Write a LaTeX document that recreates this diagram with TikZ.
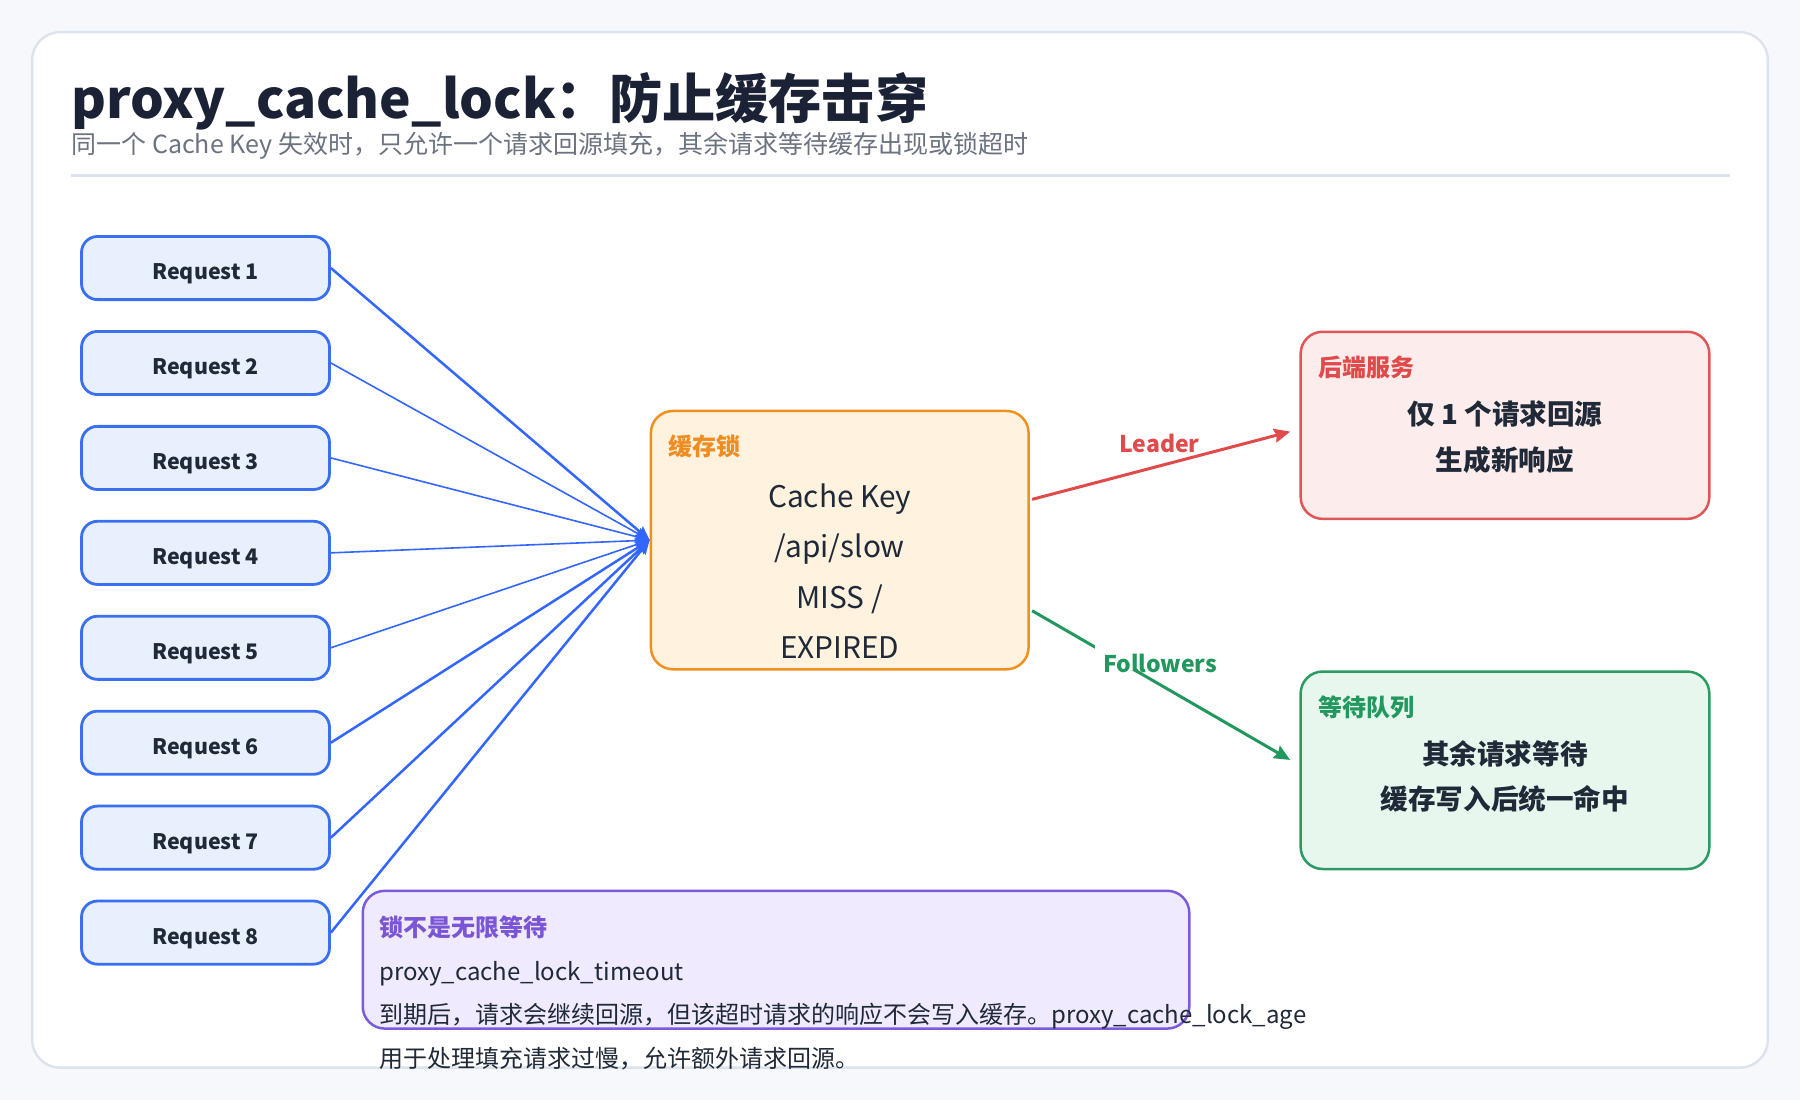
\documentclass[tikz,border=0pt]{standalone}
\usepackage{fontspec}
\setmainfont{Noto Sans CJK SC}
\usetikzlibrary{arrows.meta,calc}
\definecolor{pagebg}{HTML}{F6F8FB}
\definecolor{cardborder}{HTML}{DDE3EC}
\definecolor{titlec}{HTML}{1B2236}
\definecolor{subc}{HTML}{6B7280}
\definecolor{textc}{HTML}{1F2937}
\definecolor{reqfill}{HTML}{E8F0FE}
\definecolor{reqdraw}{HTML}{3A6FF0}
\definecolor{reqline}{HTML}{3366FF}
\definecolor{lockfill}{HTML}{FFF3E0}
\definecolor{lockdraw}{HTML}{F0901E}
\definecolor{lockc}{HTML}{EF8C22}
\definecolor{befill}{HTML}{FDECEC}
\definecolor{bedraw}{HTML}{E05656}
\definecolor{bec}{HTML}{E04A4A}
\definecolor{wqfill}{HTML}{E8F7EE}
\definecolor{wqdraw}{HTML}{2B9A63}
\definecolor{wqc}{HTML}{22985E}
\definecolor{notefill}{HTML}{EFEAFD}
\definecolor{notedraw}{HTML}{7B5BD9}
\definecolor{notec}{HTML}{7A55D6}
\begin{document}
\begin{tikzpicture}[x=0.574pt,y=-0.574pt,
  reqbox/.style={draw=reqdraw,fill=reqfill,line width=1.4pt,rounded corners=8pt,
    minimum width={216*0.574pt},minimum height={55*0.574pt},inner sep=0pt},
  reqtxt/.style={anchor=base,inner sep=0pt,font=\fontsize{10.7pt}{12pt}\selectfont\bfseries,text=textc},
  bigbox/.style={line width=1.25pt,rounded corners=11pt,inner sep=0pt},
  boxlabel/.style={anchor=base west,inner sep=0pt,font=\fontsize{12pt}{14pt}\selectfont\bfseries},
  locktxt/.style={anchor=base,inner sep=0pt,font=\fontsize{14.9pt}{17pt}\selectfont,text=textc},
  betxt/.style={anchor=base,inner sep=0pt,font=\fontsize{13.8pt}{16pt}\selectfont\bfseries,text=textc},
  notetxt/.style={anchor=base west,inner sep=0pt,font=\fontsize{12pt}{14pt}\selectfont,text=textc},
  arrlabel/.style={anchor=base,inner sep=0pt,font=\fontsize{11.5pt}{13pt}\selectfont\bfseries},
  thinreq/.style={draw=reqline,line width=0.8pt,-{Stealth[length=7pt,width=6pt,inset=1pt]}},
  thickreq/.style={draw=reqline,line width=1.25pt,-{Stealth[length=7pt,width=6pt,inset=1pt]}},
]
% background and card
\fill[pagebg] (0,0) rectangle (1568,958);
\useasboundingbox (0,0) rectangle (1568,958);
\draw[cardborder,fill=white,line width=1.2pt,rounded corners=14pt] (28,28) rectangle (1540,930);

% title
\node[anchor=base west,inner sep=0pt,text=titlec,font=\fontsize{26.6pt}{31pt}\selectfont\bfseries] (title) at (62,103) {proxy\_cache\_lock：防止缓存击穿};
\node[anchor=base west,inner sep=0pt,text=subc,font=\fontsize{12.5pt}{14pt}\selectfont] (subtitle) at (62,134) {同一个 Cache Key 失效时，只允许一个请求回源填充，其余请求等待缓存出现或锁超时};
\draw[cardborder,line width=1.4pt] (62,153) -- (1507,153);

% request boxes
\foreach \i in {1,...,8}{
  \node[reqbox] (r\i) at (179,{233.5+(\i-1)*82.7}) {};
  \node[reqtxt] (rt\i) at (179,{243.6+(\i-1)*82.7}) {Request \i};
}

% lock box
\node[bigbox,draw=lockdraw,fill=lockfill,minimum width={329*0.574pt},minimum height={225*0.574pt}] (lock) at (731.5,470.5) {};
\node[boxlabel,text=lockc] (locklbl) at (582,397) {缓存锁};
\node[locktxt] (lk1) at (731.5,442) {Cache Key};
\node[locktxt] (lk2) at (731.5,486) {/api/slow};
\node[locktxt] (lk3) at (731.5,530) {MISS /};
\node[locktxt] (lk4) at (731.5,574) {EXPIRED};

% backend box
\node[bigbox,draw=bedraw,fill=befill,minimum width={356*0.574pt},minimum height={163*0.574pt}] (backend) at (1311,370.5) {};
\node[boxlabel,text=bec] (belbl) at (1148,328) {后端服务};
\node[betxt] (be1) at (1311,370) {仅 1 个请求回源};
\node[betxt] (be2) at (1311,410) {生成新响应};

% wait queue box
\node[bigbox,draw=wqdraw,fill=wqfill,minimum width={356*0.574pt},minimum height={172*0.574pt}] (wait) at (1311,671) {};
\node[boxlabel,text=wqc] (wqlbl) at (1148,624) {等待队列};
\node[betxt] (wq1) at (1311,666) {其余请求等待};
\node[betxt] (wq2) at (1311,705) {缓存写入后统一命中};

% request connectors
\draw[thickreq] (r1.east) -- (lock.west);
\draw[thinreq] (r2.east) -- (lock.west);
\draw[thinreq] (r3.east) -- (lock.west);
\draw[thinreq] (r4.east) -- (lock.west);
\draw[thinreq] (r5.east) -- (lock.west);
\draw[thickreq] (r6.east) -- (lock.west);
\draw[thickreq] (r7.east) -- (lock.west);
\draw[thickreq] (r8.east) -- (lock.west);

% leader / followers
\draw[draw=bec,line width=1.5pt,-{Stealth[length=8pt,width=7pt,inset=1pt]}] ($(lock.east)+(2,-35.5)$) -- ($(backend.west)+(-8,5.5)$);
\node[arrlabel,text=bec] (leaderlbl) at (1010,394) {Leader};

\draw[draw=wqc,line width=1.5pt,-{Stealth[length=8pt,width=7pt,inset=1pt]}] ($(lock.east)+(2,61.5)$) -- ($(wait.west)+(-8,-9)$);
\fill[white] (954,553) rectangle (1067,584);
\node[arrlabel,text=wqc] (followlbl) at (1010.5,585.4) {Followers};

% note box
\node[bigbox,draw=notedraw,fill=notefill,minimum width={720*0.574pt},minimum height={120*0.574pt}] (note) at (676,836) {};
\node[boxlabel,text=notec] (notelbl) at (330,816) {锁不是无限等待};
\node[notetxt] (n1) at (330,854) {proxy\_cache\_lock\_timeout};
\node[notetxt] (n2) at (330,892) {到期后，请求会继续回源，但该超时请求的响应不会写入缓存。proxy\_cache\_lock\_age};
\node[notetxt] (n3) at (330,930) {用于处理填充请求过慢，允许额外请求回源。};
\end{tikzpicture}
\end{document}
